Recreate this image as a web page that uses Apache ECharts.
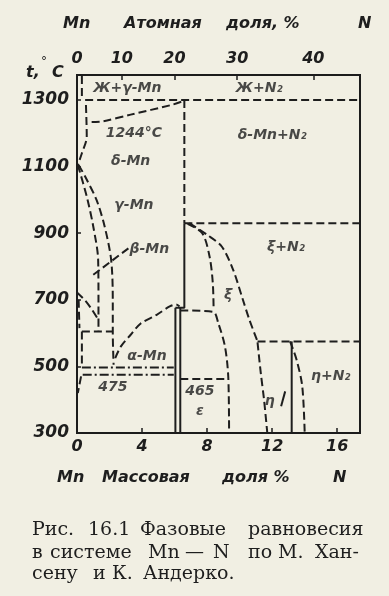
<!DOCTYPE html>
<html><head><meta charset="utf-8">
<script src="https://cdn.jsdelivr.net/npm/echarts@6/dist/echarts.min.js"></script>
<style>html,body{margin:0;padding:0;background:#f1efe3;}#c{width:389px;height:596px;}</style>
</head><body><div id="c"></div>
<script>
// ---- axis ticks ----
const massTicks = [0, 4, 8, 12, 16];
const atomTicks = [0, 10, 20, 30, 40];
const tempTicks = [300, 500, 700, 900, 1100, 1300];
const massRange = [0, 17.4];
const tempRange = [300, 1375];

// ---- phase boundaries [mass % N, °C] ----
const line1300 = [[0.5, 1300], [17.4, 1300]];
const liqLeft = [[0.3, 1372], [0.3, 1300]];
const deltaLeft = [[0.55, 1285], [0.6, 1190], [0.3, 1140], [0.05, 1105]];
const deltaTop = [[0.9, 1234], [1.6, 1236], [3.3, 1256], [5.8, 1285], [6.5, 1296]];
const gammaRightUpper = [[6.6, 1300], [6.6, 930]];
const gammaRightLower = [[6.6, 930], [6.6, 676], [6.05, 676]];
const line930 = [[6.6, 930], [17.4, 930]];
const xiLeft = [[6.8, 928], [7.7, 900], [8.15, 830], [8.35, 750], [8.4, 668]];
const xiRight = [[6.9, 930], [8.0, 895], [8.9, 860], [9.6, 790], [10.2, 700], [10.6, 640], [11.1, 575]];
const line575 = [[11.1, 575], [17.4, 575]];
const etaLeft = [[11.1, 572], [11.3, 480], [11.5, 400], [11.7, 300]];
const etaMid = [[13.2, 575], [13.2, 300]];
const etaRight = [[13.1, 575], [13.5, 520], [13.85, 440], [14.0, 300]];
const etaPointer = [[12.55, 380], [12.8, 425]];
const epsTop = [[6.35, 668], [8.37, 664], [8.68, 631], [9.1, 559], [9.3, 469], [9.35, 300]];
const epsV1 = [[6.05, 676], [6.05, 300]];
const epsV2 = [[6.35, 676], [6.35, 300]];
const line465 = [[6.35, 462], [9.3, 462]];
const line497 = [[0.3, 497], [5.95, 497]];
const line475 = [[0.35, 475], [5.95, 475]];
const alphaDome = [[2.35, 525], [2.7, 560], [3.3, 595], [3.9, 628], [4.9, 655], [5.7, 680], [6.1, 686], [6.3, 680]];
const gammaA = [[0.05, 1105], [0.6, 1010], [1.0, 920], [1.3, 820], [1.32, 700], [1.32, 605]];
const gammaB = [[0.1, 1105], [0.5, 1070], [1.2, 1000], [1.7, 920], [2.1, 820], [2.2, 700], [2.2, 600], [2.25, 505]];
const line605 = [[0.3, 605], [2.2, 605]];
const betaCross = [[1.0, 775], [3.2, 856]];
const leftCurve = [[0, 722], [0.5, 698], [0.9, 672], [1.25, 645]];
const leftVert = [[0.1, 700], [0.15, 615]];
const leftVert2 = [[0.3, 605], [0.3, 500]];
const leftLow = [[0.25, 470], [0.05, 420]];

// ---- region labels ----
const regionNames = ['Ж+γ-Mn', 'Ж+N₂', '1244°C', 'δ-Mn', 'γ-Mn', 'β-Mn', 'α-Mn', '475', 'δ-Mn+N₂', 'ξ+N₂', 'ξ', '465', 'ε', 'η', 'η+N₂'];
const regionAt = [[3.1, 1336], [11.2, 1336], [3.5, 1200], [3.3, 1117], [3.5, 985], [4.45, 850], [4.3, 530], [2.2, 436], [12.0, 1195], [12.85, 856], [9.3, 712], [7.55, 424], [7.55, 364], [11.85, 394], [15.6, 469]];

const INK = '#1e1e1e';
const DASH = [8, 4];
const DASHDOT = [9, 3, 2, 3];
const FAM = 'DejaVu Sans';

function toMass(a) { return a * 14.007 / (a * 14.007 + (100 - a) * 54.938) * 100; }
const atomPos = atomTicks.map(toMass);

function ln(data, type, smooth) {
  return { type: 'line', data: data, showSymbol: false, symbol: 'none', smooth: smooth ? 0.3 : false,
    silent: true, animation: false,
    lineStyle: { color: INK, width: 2, type: type } };
}

const series = [
  ln(line1300, DASH), ln(liqLeft, DASH), ln(deltaLeft, DASH, true), ln(deltaTop, DASH, true),
  ln(gammaRightUpper, DASH), ln(gammaRightLower, 'solid'), ln(line930, DASH),
  ln(xiLeft, DASH, true), ln(xiRight, DASH, true), ln(line575, DASH),
  ln(etaLeft, DASH, true), ln(etaMid, 'solid'), ln(etaRight, DASH, true), ln(etaPointer, 'solid'),
  ln(epsTop, DASH, true), ln(epsV1, 'solid'), ln(epsV2, 'solid'), ln(line465, DASH),
  ln(line497, DASHDOT), ln(line475, DASHDOT), ln(alphaDome, DASH, true),
  ln(gammaA, DASH, true), ln(gammaB, DASH, true), ln(line605, DASH), ln(betaCross, DASH),
  ln(leftCurve, DASH, true), ln(leftVert, DASH), ln(leftVert2, DASH), ln(leftLow, DASH),
  { type: 'scatter', silent: true, animation: false, symbolSize: 1,
    itemStyle: { color: 'rgba(0,0,0,0)' },
    data: regionNames.map((n, i) => ({ name: n, value: regionAt[i] })),
    label: { show: true, position: 'inside', formatter: '{b}', color: INK,
      fontStyle: 'italic', fontWeight: 'bold', fontSize: 14, fontFamily: FAM } }
];

const font = 'italic bold 16px "DejaVu Sans"';
function txt(t, x, y, f, align) {
  return { type: 'text', x: x, y: y, silent: true,
    style: { text: t, font: f || font, fill: INK, align: align || 'left', verticalAlign: 'middle',
      textAlign: align || 'left', textVerticalAlign: 'middle' } };
}
const serif = '19px "DejaVu Serif"';
const capWords = [
  ['Рис.', 32, 530], ['16.1', 88, 530], ['Фазовые', 140, 530], ['равновесия', 248, 530],
  ['в', 32, 553], ['системе', 50, 553], ['Mn', 148, 553], ['—', 185, 553], ['N', 213, 553], ['по', 248, 553], ['М.', 278, 553], ['Хан-', 315, 553],
  ['сену', 32, 574], ['и', 93, 574], ['К.', 112, 574], ['Андерко.', 143, 574]
];
const graphics = [
  txt('Mn', 63, 24), txt('Атомная', 124, 24), txt('доля, %', 226, 24), txt('N', 358, 24),
  txt('t,', 26, 73), txt('°', 41, 62, '12px "DejaVu Sans"'), txt('C', 52, 73),
  txt('Mn', 57, 478), txt('Массовая', 102, 478), txt('доля %', 222, 478), txt('N', 333, 478)
].concat(capWords.map(w => txt(w[0], w[1], w[2], serif)));

const tickFont = { color: INK, fontStyle: 'italic', fontWeight: 'bold', fontSize: 16, fontFamily: FAM };

const chart = echarts.init(document.getElementById('c'));
chart.setOption({
  backgroundColor: '#f1efe3',
  animation: false,
  grid: { left: 77, right: 29, top: 75, bottom: 163, show: true, borderColor: '#1c1c1c', borderWidth: 2, backgroundColor: 'transparent' },
  xAxis: [
    { type: 'value', min: massRange[0], max: massRange[1], position: 'bottom',
      axisLine: { show: false }, splitLine: { show: false },
      axisTick: { show: true, inside: true, length: 5, customValues: massTicks, lineStyle: { color: INK, width: 1.5 } },
      axisLabel: Object.assign({ customValues: massTicks, margin: 6, formatter: v => String(v) }, tickFont) },
    { type: 'value', min: massRange[0], max: massRange[1], position: 'top',
      axisLine: { show: false }, splitLine: { show: false },
      axisTick: { show: true, inside: true, length: 5, customValues: atomPos, lineStyle: { color: INK, width: 1.5 } },
      axisLabel: Object.assign({ customValues: atomPos, margin: 8,
        formatter: function (v) { let k = 0, d = 1e9; atomPos.forEach((p, i) => { if (Math.abs(p - v) < d) { d = Math.abs(p - v); k = i; } }); return String(atomTicks[k]); } }, tickFont) }
  ],
  yAxis: { type: 'value', min: tempRange[0], max: tempRange[1],
    axisLine: { show: false }, splitLine: { show: false },
    axisTick: { show: true, inside: true, length: 4, customValues: tempTicks, lineStyle: { color: INK, width: 1.5 } },
    axisLabel: Object.assign({ customValues: tempTicks, margin: 8, formatter: v => String(v) }, tickFont, { fontSize: 17 }) },
  series: series,
  graphic: graphics
});
</script></body></html>
